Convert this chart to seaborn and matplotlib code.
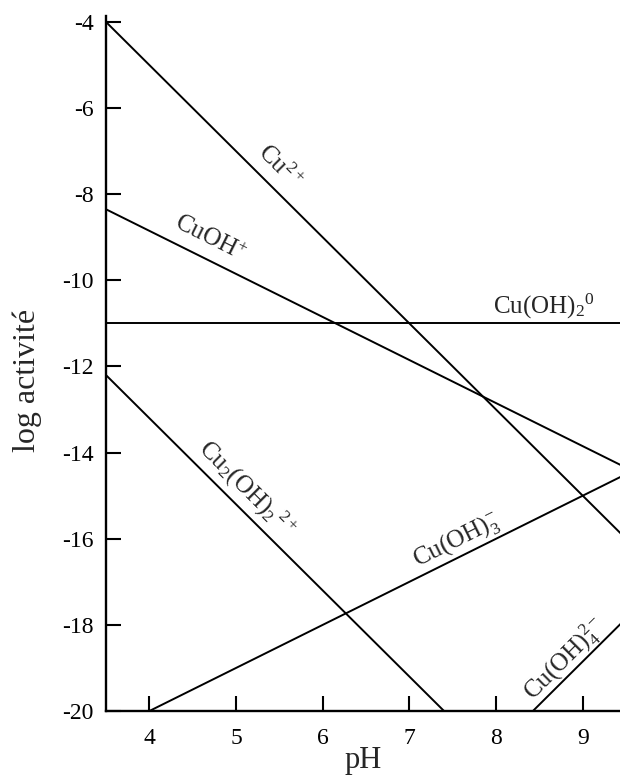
import matplotlib
matplotlib.use("Agg")
import matplotlib.pyplot as plt
import seaborn as sns
import pandas as pd

# Data: endpoints of each species line (pH, log activity)
ph_cu = [3.5, 9.5]
log_cu = [-4.0, -16.0]
ph_cuoh = [3.5, 9.5]
log_cuoh = [-8.35, -14.35]
ph_cuoh2 = [3.5, 9.5]
log_cuoh2 = [-11.0, -11.0]
ph_cu2oh2 = [3.5, 7.4]
log_cu2oh2 = [-12.2, -20.0]
ph_cuoh3 = [4.0, 9.5]
log_cuoh3 = [-20.0, -14.5]
ph_cuoh4 = [8.425, 9.5]
log_cuoh4 = [-20.0, -17.85]

species = ["Cu2+", "CuOH+", "Cu(OH)2", "Cu2(OH)2", "Cu(OH)3", "Cu(OH)4"]
x_ticks = [4, 5, 6, 7, 8, 9]
y_ticks = [-4, -6, -8, -10, -12, -14, -16, -18, -20]

sns.set_style("ticks")
plt.rcParams["font.family"] = ["Liberation Serif", "DejaVu Serif"]
plt.rcParams["mathtext.fontset"] = "custom"
plt.rcParams["mathtext.rm"] = "Liberation Serif"
plt.rcParams["mathtext.it"] = "Liberation Serif:italic"
plt.rcParams["mathtext.bf"] = "Liberation Serif:bold"

rows = []
for name, xs, ys in zip(species,
                        [ph_cu, ph_cuoh, ph_cuoh2, ph_cu2oh2, ph_cuoh3, ph_cuoh4],
                        [log_cu, log_cuoh, log_cuoh2, log_cu2oh2, log_cuoh3, log_cuoh4]):
    for x, y in zip(xs, ys):
        rows.append({"species": name, "pH": x, "log": y})
df = pd.DataFrame(rows)

fig = plt.figure(figsize=(6.2, 7.81), dpi=100)
ax = fig.add_axes([0.171, 0.0896, 0.829, 0.89])

sns.lineplot(data=df, x="pH", y="log", units="species", estimator=None,
             color="black", linewidth=1.4, ax=ax, legend=False, sort=False)

ax.set_xlim(3.5, 9.43)
ax.set_ylim(-20, -3.86)
ax.set_xticks(x_ticks)
ax.set_yticks(y_ticks)
ax.set_xticklabels([str(t) for t in x_ticks])
ax.set_yticklabels([str(t) for t in y_ticks])
ax.tick_params(direction="in", length=11, width=1.5, labelsize=17,
               colors="black")
ax.tick_params(axis="x", pad=12)
ax.tick_params(axis="y", pad=9)
for s in ["top", "right"]:
    ax.spines[s].set_visible(False)
for s in ["left", "bottom"]:
    ax.spines[s].set_linewidth(1.7)
    ax.spines[s].set_color("black")
ax.set_xlabel("pH", fontsize=22, labelpad=-2)
ax.set_ylabel("log activité", fontsize=23)
ax.yaxis.set_label_coords(-0.125, 0.476)

fs = 18
ax.text(5.5, -7.37, r"$\mathrm{Cu}^{2+}$", rotation=-45, fontsize=fs,
        ha="center", va="center", rotation_mode="anchor")
ax.text(4.70, -9.02, r"$\mathrm{CuOH}^{+}$", rotation=-26.5, fontsize=fs,
        ha="center", va="center", rotation_mode="anchor")
ax.text(8.55, -10.6, r"$\mathrm{Cu(OH)_2}^{0}$", rotation=0, fontsize=fs,
        ha="center", va="center")
ax.text(5.12, -14.85, r"$\mathrm{Cu_2(OH)_2}^{\,2+}$", rotation=-45, fontsize=fs,
        ha="center", va="center", rotation_mode="anchor")
ax.text(7.54, -16.05, r"$\mathrm{Cu(OH)_3^{-}}$", rotation=26.5, fontsize=fs,
        ha="center", va="center", rotation_mode="anchor")
ax.text(8.8, -18.8, r"$\mathrm{Cu(OH)_4^{2-}}$", rotation=45, fontsize=fs,
        ha="center", va="center", rotation_mode="anchor")

fig.savefig("out.png", dpi=100)
